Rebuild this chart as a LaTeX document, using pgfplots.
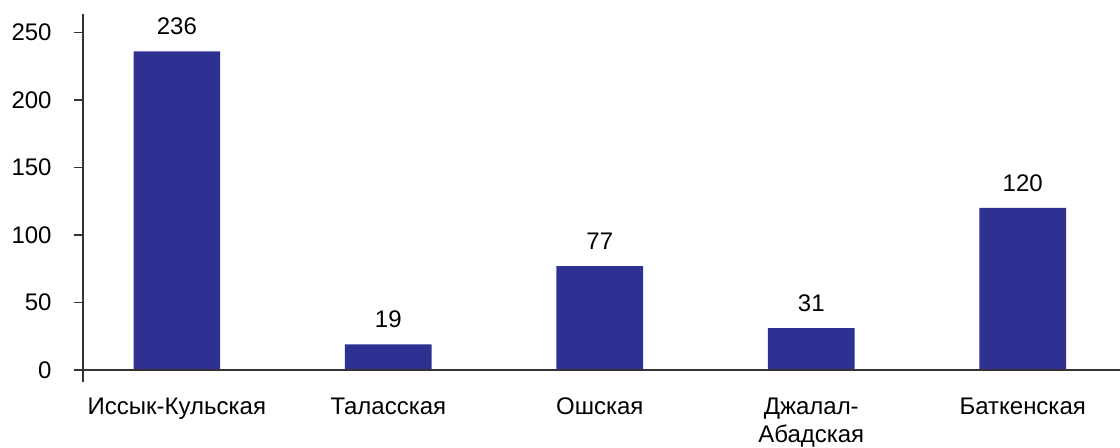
\documentclass[border=0pt]{standalone}
\usepackage{fontspec}
\setmainfont{Liberation Sans}
\usepackage{pgfplots}
\pgfplotsset{compat=1.18}
\definecolor{barblue}{RGB}{46,49,146}
\begin{document}
\fontsize{12}{14}\selectfont
\begin{tikzpicture}
\begin{axis}[
    width=518.5pt, height=184pt,
    scale only axis,
    xmin=-0.444, xmax=4.46,
    ymin=-8.9, ymax=263.7,
    axis x line=none,
    axis y line*=left,
    y axis line style={-, line width=0.6pt, black!80},
    ytick={0,50,100,150,200,250},
    ytick style={black!80, line width=0.6pt},
    tick align=outside,
    major tick length=4.5pt,
    yticklabel style={xshift=-7pt, font=\fontsize{12}{14}\selectfont},
    /pgf/number format/assume math mode=true,
    ybar, bar width=0.41,
    nodes near coords,
    every node near coord/.append style={yshift=4pt, font=\fontsize{12}{14}\selectfont},
    clip=false,
]
\addplot[fill=barblue, draw=none] coordinates {
    (0,236) (1,19) (2,77) (3,31) (4,120)
};
% category names under the bars (x axis itself is hidden)
\foreach \i/\lab in {0/Иссык-Кульская, 1/Таласская, 2/Ошская, 3/{Джалал-\\\strut Абадская}, 4/Баткенская}{
    \edef\tmp{\noexpand\node[anchor=north, align=center, inner sep=0pt, font=\noexpand\fontsize{12}{14}\noexpand\selectfont] at (axis cs:\i,-8.9) [yshift=-6.5pt] {\noexpand\strut\unexpanded\expandafter{\lab}};}
    \tmp
}
\draw[black!80, line width=0.6pt] ([xshift=-4.5pt]axis cs:-0.444,0) -- (axis cs:4.46,0);
\end{axis}
\pgfresetboundingbox
\path (current axis.south west) ++(-41.5pt,-33pt) rectangle ([yshift=7pt]current axis.north east);
\end{tikzpicture}
\end{document}
